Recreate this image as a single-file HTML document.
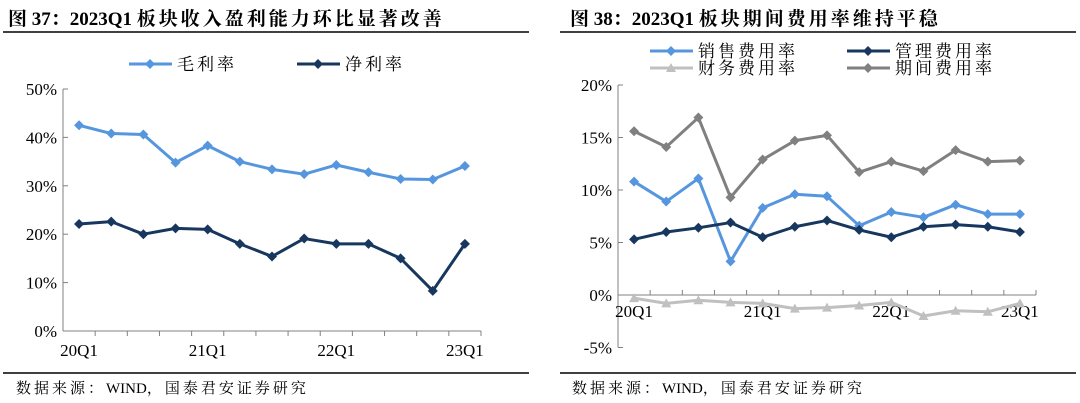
<!DOCTYPE html>
<html><head><meta charset="utf-8"><style>
body{margin:0;background:#fff;width:1080px;height:403px;overflow:hidden;font-family:"Liberation Serif","Noto Serif CJK SC",serif;}
svg{position:absolute;left:0;top:0}
.c{letter-spacing:3px}
</style></head><body>
<svg id="s" width="1080" height="403">
<text x="8" y="25" font-size="19" font-weight="bold" fill="#000"><tspan>图 37：</tspan><tspan>2023Q1 </tspan><tspan class="c">板块收入盈利能力环比显著改善</tspan></text>
<line x1="3" y1="32" x2="529" y2="32" stroke="#000" stroke-width="1.5"/>
<text x="570" y="25" font-size="19" font-weight="bold" fill="#000"><tspan>图 38：</tspan><tspan>2023Q1 </tspan><tspan class="c">板块期间费用率维持平稳</tspan></text>
<line x1="560" y1="32" x2="1076" y2="32" stroke="#000" stroke-width="1.5"/>
<line x1="3" y1="373" x2="529" y2="373" stroke="#000" stroke-width="1.5"/>
<line x1="560" y1="373" x2="1076" y2="373" stroke="#000" stroke-width="1.5"/>
<text x="16" y="393" font-size="15" fill="#000"><tspan class="c">数据来源：</tspan><tspan>WIND</tspan><tspan class="c">，国泰君安证券研究</tspan></text>
<text x="572" y="393" font-size="15" fill="#000"><tspan class="c">数据来源：</tspan><tspan>WIND</tspan><tspan class="c">，国泰君安证券研究</tspan></text>
<g id="L"></g><g id="R"></g>
</svg>
<script>
const categories=["20Q1","20Q2","20Q3","20Q4","21Q1","21Q2","21Q3","21Q4","22Q1","22Q2","22Q3","22Q4","23Q1"];
const grossMargin=[42.5,40.8,40.6,34.8,38.3,35,33.4,32.4,34.3,32.8,31.4,31.3,34.1];
const netMargin=[22.1,22.6,20,21.2,21,18,15.4,19.1,18,18,15,8.3,18];
const leftTicks=[0,10,20,30,40,50];
const salesRate=[10.8,8.9,11.1,3.2,8.3,9.6,9.4,6.6,7.9,7.4,8.6,7.7,7.7];
const adminRate=[5.3,6,6.4,6.9,5.5,6.5,7.1,6.2,5.5,6.5,6.7,6.5,6];
const financeRate=[-0.3,-0.8,-0.5,-0.7,-0.8,-1.3,-1.2,-1,-0.7,-2,-1.5,-1.6,-0.8];
const periodRate=[15.6,14.1,16.9,9.3,12.9,14.7,15.2,11.7,12.7,11.8,13.8,12.7,12.8];
const rightTicks=[-5,0,5,10,15,20];
const xLabelIdx=[0,4,8,12];
const NS="http://www.w3.org/2000/svg";
function mk(p,t,a){const e=document.createElementNS(NS,t);for(const k in a)e.setAttribute(k,a[k]);p.appendChild(e);return e;}
function marker(g,x,y,c,tri){
  if(tri)return mk(g,'polygon',{points:`${x},${y-5} ${x-5},${y+4} ${x+5},${y+4}`,fill:c});
  return mk(g,'polygon',{points:`${x},${y-5} ${x+5},${y} ${x},${y+5} ${x-5},${y}`,fill:c});
}
function chart(gid,ax,ax2,yTop,yBot,vTop,vBot,ticks,series,xAxisY,labelY,tickUp,pref){
  const g=document.getElementById(gid);
  const bw=(ax2-ax)/categories.length;
  const X=i=>ax+bw*(i+0.5);
  const Y=v=>yBot+(v-vBot)/(vTop-vBot)*(yTop-yBot);
  const ya=mk(g,'line',{x1:ax,y1:yTop,x2:ax,y2:yBot,stroke:'#808080','stroke-width':1});
  
  
  ticks.forEach(t=>{
    mk(g,'line',{x1:ax,y1:Y(t),x2:ax+5,y2:Y(t),stroke:'#808080'});
    const tx=mk(g,'text',{x:ax-6,y:Y(t)+6,'font-size':17,'text-anchor':'end',fill:'#000'});
    tx.textContent=t+'%';
    
    
  });
  const xa=mk(g,'line',{x1:ax,y1:xAxisY,x2:ax2,y2:xAxisY,stroke:'#808080'});
  
  
  for(let i=1;i<=categories.length;i++){const x=ax+bw*i;mk(g,'line',{x1:x,y1:xAxisY,x2:x,y2:xAxisY+(tickUp?-5:5),stroke:'#808080'});}
  xLabelIdx.forEach(i=>{
    const tx=mk(g,'text',{x:X(i),y:labelY,'font-size':17,'text-anchor':'middle',fill:'#000'});
    tx.textContent=categories[i];
    
    
  });
  series.forEach(s=>{
    const sg=mk(g,'g',{});
    
    
    mk(sg,'polyline',{points:s.data.map((v,i)=>X(i)+','+Y(v)).join(' '),fill:'none',stroke:s.c,'stroke-width':3,'stroke-linejoin':'round'});
    s.data.forEach((v,i)=>marker(sg,X(i),Y(v),s.c,s.tri));
    const lg=mk(g,'g',{});
    
    
    mk(lg,'line',{x1:s.lx,y1:s.ly,x2:s.lx+43,y2:s.ly,stroke:s.c,'stroke-width':3});
    marker(lg,s.lx+21,s.ly,s.c,s.tri);
    const t=mk(lg,'text',{x:s.lx+48,y:s.ly+6,'font-size':17,'letter-spacing':3,fill:'#000'});
    t.textContent=s.label;
  });
}
chart('L',63,481,89,331,50,0,leftTicks,[
 {name:'gross-margin-line',label:'毛利率',data:grossMargin,c:'#5596de',lx:129,ly:64},
 {name:'net-margin-line',label:'净利率',data:netMargin,c:'#17375e',lx:297,ly:64}
],331,356,false,'left');
chart('R',618,1036,85,347.5,20,-5,rightTicks,[
 {name:'finance-rate-line',label:'财务费用率',data:financeRate,c:'#c0c0c0',lx:650,ly:68,tri:true},
 {name:'period-rate-line',label:'期间费用率',data:periodRate,c:'#808080',lx:847,ly:68},
 {name:'sales-rate-line',label:'销售费用率',data:salesRate,c:'#5596de',lx:650,ly:51},
 {name:'admin-rate-line',label:'管理费用率',data:adminRate,c:'#17375e',lx:847,ly:51}
],295,317,true,'right');
</script>
</body></html>
